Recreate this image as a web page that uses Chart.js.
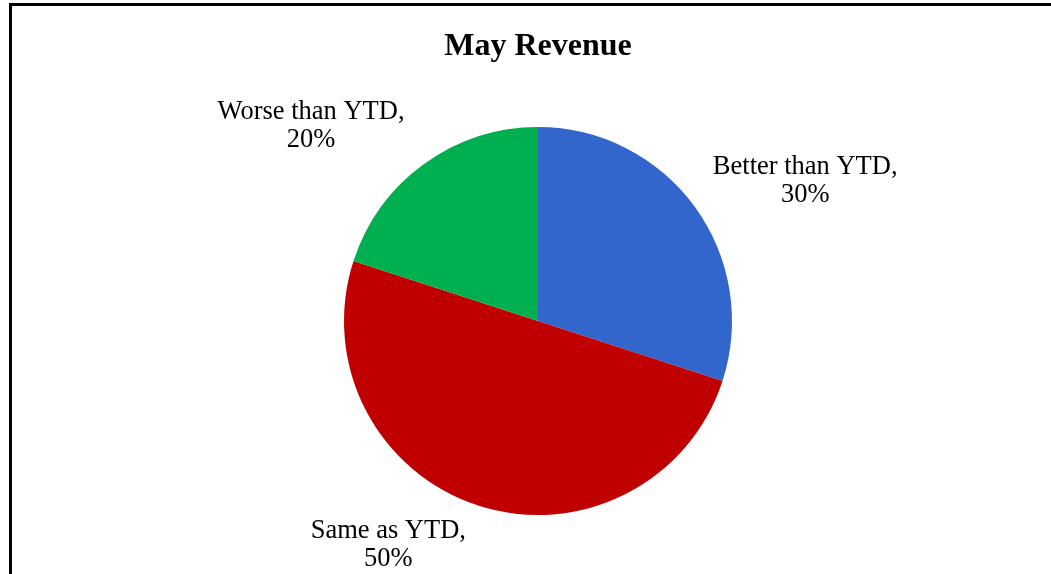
<!DOCTYPE html>
<html>
<head>
<meta charset="utf-8">
<script src="https://cdn.jsdelivr.net/npm/chart.js@4/dist/chart.umd.min.js"></script>
<style>
  html, body { margin: 0; padding: 0; background: #fff; overflow: hidden; }
  #wrap { position: absolute; left: 0; top: 0; width: 1051px; height: 574px; }
  #frame { position: absolute; left: 9px; top: 3px; width: 1100px; height: 700px; border: 3px solid #000; pointer-events: none; }
</style>
</head>
<body>
<div id="wrap"><canvas id="pieChart" width="1051" height="574"></canvas></div>
<div id="frame"></div>
<script>
const categories = ['Better than YTD', 'Same as YTD', 'Worse than YTD'];
const shares = [30, 50, 20];
const sliceColors = ['#3366CC', '#C00000', '#00B050'];

// where each data label sits: angle shift from the slice middle (deg) and distance in radii
const labelShift = [8, 16, -13];
const labelDist = [1.56, 1.38, 1.55];

const pieLabels = {
    id: 'pieLabels',
    afterDatasetsDraw(chart) {
        const ctx = chart.ctx;
        const meta = chart.getDatasetMeta(0);
        const total = shares.reduce((a, b) => a + b, 0);
        ctx.save();
        ctx.font = '26.5px "Liberation Serif", "Times New Roman", serif';
        ctx.fillStyle = '#000';
        ctx.textAlign = 'center';
        ctx.textBaseline = 'middle';
        meta.data.forEach((arc, i) => {
            const mid = (arc.startAngle + arc.endAngle) / 2 + labelShift[i] * Math.PI / 180;
            const r = arc.outerRadius * labelDist[i];
            const x = arc.x + Math.cos(mid) * r;
            const y = arc.y + Math.sin(mid) * r + 2;
            const pct = Math.round(shares[i] / total * 100) + '%';
            ctx.fillText(categories[i] + ',', x, y - 14);
            ctx.fillText(pct, x, y + 14);
        });
        ctx.restore();
    }
};

new Chart(document.getElementById('pieChart').getContext('2d'), {
    type: 'pie',
    data: {
        labels: categories,
        datasets: [{
            data: shares,
            backgroundColor: sliceColors,
            borderWidth: 0
        }]
    },
    options: {
        responsive: false,
        animation: false,
        layout: { padding: { left: 25, right: 0, top: 0, bottom: 59 } },
        plugins: {
            legend: { display: false },
            tooltip: { enabled: false },
            title: {
                display: true,
                text: 'May Revenue',
                color: '#000',
                font: { family: '"Liberation Serif", "Times New Roman", serif', size: 32, weight: 'bold' },
                padding: { top: 28, bottom: 60.6 }
            }
        }
    },
    plugins: [pieLabels]
});
</script>
</body>
</html>
